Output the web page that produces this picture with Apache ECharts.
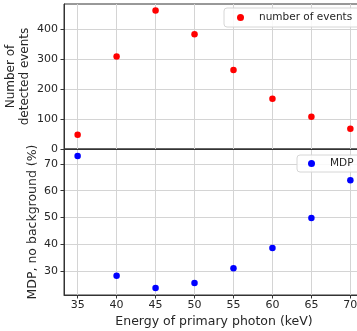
<!DOCTYPE html>
<html>
<head>
<meta charset="utf-8">
<script src="https://cdn.jsdelivr.net/npm/echarts@6/dist/echarts.min.js"></script>
<style>
  html, body { margin: 0; padding: 0; background: #fff; }
  #chart { width: 357px; height: 331px; }
</style>
</head>
<body>
<div id="chart"></div>
<script>
// energy of primary photon (keV)
var energies = [35, 40, 45, 50, 55, 60, 65, 70];
// number of detected events
var events = [48, 309, 463, 384, 264, 168, 108, 68];
// MDP, no background (%)
var mdp = [73.0, 28.2, 23.6, 25.5, 31.0, 38.6, 49.8, 63.9];

var xTicks = [35, 40, 45, 50, 55, 60, 65, 70];
var eventTicks = [0, 100, 200, 300, 400];
var mdpTicks = [30, 40, 50, 60, 70];

var font = 'DejaVu Sans';
var ink = '#262626';
var gridLine = { show: true, lineStyle: { color: '#d4d4d4', width: 1 } };

function pairs(ys) {
  return energies.map(function (e, i) { return [e, ys[i]]; });
}

var chart = echarts.init(document.getElementById('chart'), null, { renderer: 'canvas' });

var option = {
  animation: false,
  backgroundColor: '#fff',
  textStyle: { fontFamily: font },
  grid: [
    { left: 64, top: 4, width: 300, height: 145, outerBoundsMode: 'none', show: true, borderColor: '#333', borderWidth: 1 },
    { left: 64, top: 149, width: 300, height: 146, outerBoundsMode: 'none', show: true, borderColor: '#333', borderWidth: 1 }
  ],
  xAxis: [
    {
      gridIndex: 0, type: 'value', min: 33.25, max: 71.75,
      axisLine: { show: true, lineStyle: { color: '#333' } },
      axisTick: { show: false, customValues: xTicks },
      axisLabel: { show: false, customValues: xTicks },
      splitLine: gridLine
    },
    {
      gridIndex: 1, type: 'value', min: 33.25, max: 71.75,
      name: 'Energy of primary photon (keV)', nameLocation: 'middle', nameGap: 20, nameMoveOverlap: false,
      nameTextStyle: { fontSize: 12.5, color: ink, fontFamily: font },
      axisLine: { show: true, lineStyle: { color: '#333' } },
      axisTick: { show: true, length: 3.5, customValues: xTicks, lineStyle: { color: '#333' } },
      axisLabel: { customValues: xTicks, fontSize: 11, color: ink, margin: 5, fontFamily: font },
      splitLine: gridLine
    }
  ],
  yAxis: [
    {
      gridIndex: 0, type: 'value', min: 0, max: 485,
      name: 'Number of\ndetected events', nameLocation: 'middle', nameGap: 32, nameMoveOverlap: false,
      nameTextStyle: { fontSize: 12, color: ink, lineHeight: 14, fontFamily: font },
      axisLine: { show: true, lineStyle: { color: '#333' } },
      axisTick: { show: true, length: 3.5, customValues: eventTicks, lineStyle: { color: '#333' } },
      axisLabel: { customValues: eventTicks, fontSize: 11, color: ink, margin: 6, fontFamily: font },
      splitLine: gridLine
    },
    {
      gridIndex: 1, type: 'value', min: 21, max: 75.6,
      name: 'MDP, no background (%)', nameLocation: 'middle', nameGap: 25, nameMoveOverlap: false,
      nameTextStyle: { fontSize: 12.5, color: ink, fontFamily: font },
      axisLine: { show: true, lineStyle: { color: '#333' } },
      axisTick: { show: true, length: 3.5, customValues: mdpTicks, lineStyle: { color: '#333' } },
      axisLabel: { customValues: mdpTicks, fontSize: 11, color: ink, margin: 6, fontFamily: font },
      splitLine: gridLine
    }
  ],
  legend: [
    {
      data: ['number of events'], left: 224, top: 8,
      itemWidth: 27, itemHeight: 7, padding: [4, 8, 4, 13],
      backgroundColor: 'rgba(255,255,255,0.85)', borderColor: '#d6d6d6', borderWidth: 1, borderRadius: 3,
      textStyle: { fontSize: 10.5, color: ink, fontFamily: font }
    },
    {
      data: ['MDP'], left: 297, top: 155,
      itemWidth: 27, itemHeight: 7, padding: [3, 8, 3, 11],
      backgroundColor: 'rgba(255,255,255,0.85)', borderColor: '#d6d6d6', borderWidth: 1, borderRadius: 3,
      textStyle: { fontSize: 10.5, color: ink, fontFamily: font }
    }
  ],
  series: [
    {
      name: 'number of events', type: 'scatter', xAxisIndex: 0, yAxisIndex: 0,
      symbol: 'circle', symbolSize: 6.5, itemStyle: { color: '#ff0000', opacity: 1 },
      data: pairs(events), clip: false
    },
    {
      name: 'MDP', type: 'scatter', xAxisIndex: 1, yAxisIndex: 1,
      symbol: 'circle', symbolSize: 6.5, itemStyle: { color: '#0000ff', opacity: 1 },
      data: pairs(mdp), clip: false
    }
  ]
};

chart.setOption(option);
</script>
</body>
</html>
